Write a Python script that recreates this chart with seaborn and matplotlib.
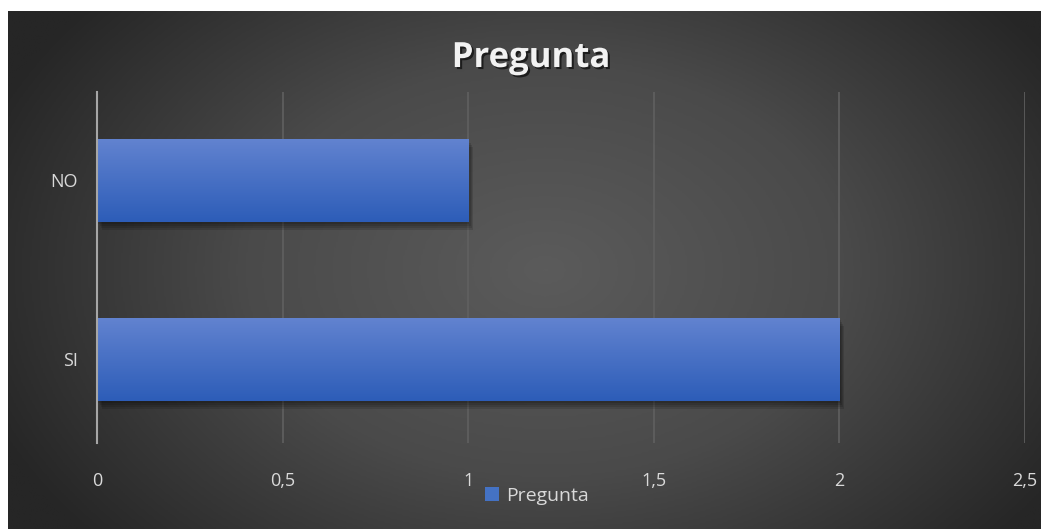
import numpy as np
import pandas as pd
import matplotlib
matplotlib.use("Agg")
import matplotlib.pyplot as plt
import matplotlib.patheffects as pe
from matplotlib.patches import Patch
from matplotlib.colors import LinearSegmentedColormap
import seaborn as sns

# datos
categorias = ["NO", "SI"]
valores = [1, 2]
serie = "Pregunta"
ticks_x = [0, 0.5, 1, 1.5, 2, 2.5]
etiquetas_x = ["0", "0,5", "1", "1,5", "2", "2,5"]

df = pd.DataFrame({"Categoria": categorias, "Valor": valores})

sns.set_style("dark")
plt.rcParams["font.family"] = ["Open Sans", "DejaVu Sans"]

W, H = 1041, 529
fig = plt.figure(figsize=(W / 100, H / 100), dpi=100)
fig.patch.set_facecolor("white")

# fondo con degradado radial estilo Excel
bg = fig.add_axes([8 / W, 0, 1 - 8 / W, 1 - 11 / H])
bg.set_zorder(-10)
yy, xx = np.mgrid[0:1:300j, 0:1:600j]
r = np.sqrt(((xx - 0.52) / 0.58) ** 2 + ((yy - 0.5) / 0.8) ** 2)
r = np.clip(r, 0, 1)
fondo = LinearSegmentedColormap.from_list("fondo", ["#5b5b5b", "#4a4a4a", "#262626"])
bg.imshow(r, cmap=fondo, aspect="auto", extent=[0, 1, 0, 1], interpolation="bilinear")
bg.axis("off")

ax = fig.add_axes([97 / W, 1 - 443 / H, (1025 - 97) / W, (443 - 92) / H])
ax.patch.set_alpha(0)

sns.barplot(data=df, x="Valor", y="Categoria", orient="h", width=0.464,
            color="#4472c4", linewidth=0, edgecolor="none", ax=ax, zorder=3)

# degradado vertical en las barras + sombra suave
grad_cmap = LinearSegmentedColormap.from_list("barra", ["#6283d0", "#2d5db8"])
grad = np.linspace(0, 1, 100).reshape(-1, 1)
sombra = [pe.SimplePatchShadow(offset=(o * 0.6, -o), shadow_rgbFace="black", alpha=0.12)
          for o in (6, 4.5, 3, 1.5)]
for p in ax.patches:
    p.set_path_effects(sombra + [pe.Normal()])
    x0, y0, w, h = p.get_x(), p.get_y(), p.get_width(), p.get_height()
    im = ax.imshow(grad, cmap=grad_cmap, aspect="auto",
                   extent=[x0, x0 + w, y0 + h, y0], zorder=4, interpolation="bilinear")
    im.set_clip_path(p)

ax.set_xlim(0, 2.5)
ax.set_ylim(1.467, -0.494)
ax.set_xticks(ticks_x)
ax.set_xticklabels(etiquetas_x)
ax.grid(axis="x", color="#606060", linewidth=1.2, zorder=0)
ax.grid(axis="y", visible=False)
ax.set_axisbelow(True)
for s in ["top", "right", "bottom"]:
    ax.spines[s].set_visible(False)
ax.spines["left"].set_color("#a6a6a6")
ax.spines["left"].set_linewidth(1.5)
ax.spines["left"].set_zorder(5)
ax.tick_params(axis="x", length=0, pad=21, labelsize=13, labelcolor="#d9d9d9")
ax.tick_params(axis="y", length=0, pad=14, labelsize=13, labelcolor="#d9d9d9")
ax.set_xlabel("")
ax.set_ylabel("")

fig.text(531 / W, 1 - 58 / H, "Pregunta", ha="center", va="center",
         fontsize=25, fontweight="bold", color="#f2f2f2",
         path_effects=[pe.withSimplePatchShadow(offset=(1.5, -1.5), shadow_rgbFace="black", alpha=0.6)])

fig.legend(handles=[Patch(facecolor="#4472c4", edgecolor="none")], labels=[serie],
           loc="center", bbox_to_anchor=(537 / W, 1 - 496 / H), frameon=False,
           handlelength=0.7, handleheight=0.7, handletextpad=0.35,
           fontsize=14, labelcolor="#d9d9d9")

fig.savefig("out.png", dpi=100)
